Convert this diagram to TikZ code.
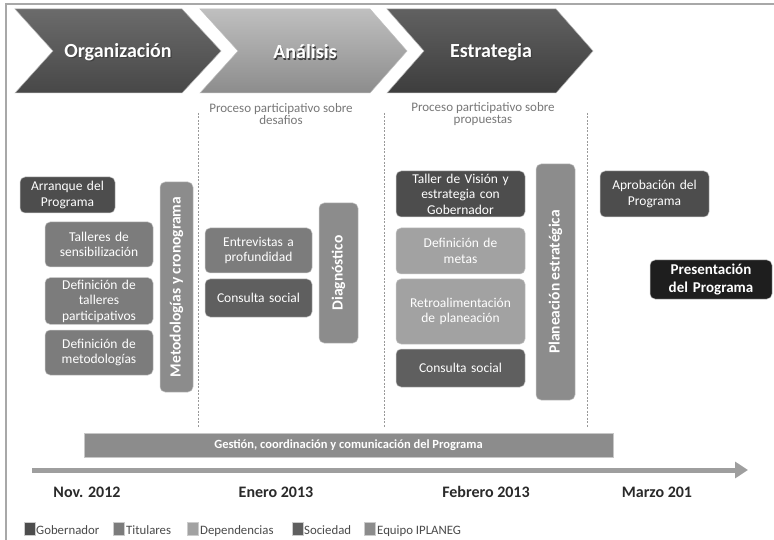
\documentclass[tikz,border=0pt]{standalone}
\usepackage{fontspec}
\setmainfont{Carlito}
\usetikzlibrary{arrows.meta}
\definecolor{cGob}{HTML}{4D4D4D}
\definecolor{cTit}{HTML}{7C7C7C}
\definecolor{cDep}{HTML}{A2A2A2}
\definecolor{cSoc}{HTML}{5F5F5F}
\definecolor{cEq}{HTML}{8C8C8C}
\definecolor{cPres}{HTML}{1E1E1E}
\definecolor{cFrame}{HTML}{A8A8A8}
\definecolor{cSub}{HTML}{787878}
\definecolor{cDate}{HTML}{2A2A2A}
\definecolor{cLeg}{HTML}{4A4A4A}
\begin{document}
\begin{tikzpicture}[x=1pt,y=-1pt,
  box/.style={rounded corners=5pt, draw=black!22, line width=0.5pt, fill=#1,
    text=white, align=center, inner sep=2pt,
    font=\fontsize{13.5}{15.5}\selectfont},
  vbar/.style={rounded corners=5pt, draw=black!22, line width=0.5pt, fill=cEq,
    text=white, align=center, inner sep=0pt, rotate=90,
    font=\fontsize{15.5}{17}\selectfont\bfseries},
  chevlabel/.style={text=white, inner sep=0pt, font=\fontsize{20}{22}\selectfont\bfseries},
  chevshadow/.style={text=black!75, inner sep=0pt, font=\fontsize{20}{22}\selectfont\bfseries},
  subt/.style={text=cSub, align=center, inner sep=0pt, font=\fontsize{13}{12}\selectfont},
  datelabel/.style={text=cDate, inner sep=0pt, font=\fontsize{16}{18}\selectfont\bfseries},
  lsq/.style={draw=black!20, line width=0.3pt, minimum width=11pt, minimum height=13pt, inner sep=0pt},
  ltext/.style={text=cLeg, inner sep=0pt, anchor=base west, font=\fontsize{12.8}{14}\selectfont},
  vline/.style={draw=black!40, line width=0.8pt, dash pattern=on 2pt off 1.5pt},
]
\useasboundingbox (0,0) rectangle (774,540);
\fill[white] (0,0) rectangle (774,540);

% frame
\coordinate (fa) at (6,540);
\coordinate (fb) at (6,4);
\coordinate (fc) at (774,4);
\draw[cFrame, line width=2pt] (fa) -- (fb) -- (fc);

% chevrons
\draw[draw=black!30, line width=0.5pt, top color=black!58, bottom color=black!72]
  (15,9) -- (182,9) -- (221,51) -- (182,93) -- (15,93) -- (53,51) -- cycle;
\draw[draw=black!25, line width=0.5pt, top color=black!25, bottom color=black!45]
  (200,9) -- (370,9) -- (407,51) -- (370,93) -- (200,93) -- (238,51) -- cycle;
\draw[draw=black!30, line width=0.5pt, top color=black!62, bottom color=black!76]
  (387,9) -- (556,9) -- (593,51) -- (556,93) -- (387,93) -- (424,51) -- cycle;

\node[chevshadow] (orgs) at (119.2,53.2) {Organización};
\node[chevlabel] (org) at (118,52) {Organización};
\node[chevshadow] (anas) at (306.2,53.2) {Análisis};
\node[chevlabel] (ana) at (305,52) {Análisis};
\node[chevshadow] (ests) at (492.2,53.2) {Estrategia};
\node[chevlabel] (est) at (491,52) {Estrategia};

% subtitles
\node[subt] (sub1) at (281,114) {Proceso participativo sobre\\desafios};
\node[subt] (sub2) at (483,114) {Proceso participativo sobre\\propuestas};

% dashed separators
\coordinate (d1a) at (198,113); \coordinate (d1b) at (198,428);
\coordinate (d2a) at (384,113); \coordinate (d2b) at (384,428);
\coordinate (d3a) at (587,113); \coordinate (d3b) at (587,428);
\draw[vline] (d1a) -- (d1b);
\draw[vline] (d2a) -- (d2b);
\draw[vline] (d3a) -- (d3b);

% Organización column
\node[box=cGob, minimum width=95pt, minimum height=36pt, text width=89pt] (arr) at (67.5,195) {Arranque del\\Programa};
\node[box=cTit, minimum width=108pt, minimum height=45pt, text width=102pt] (tal) at (99,244.5) {Talleres de\\sensibilización};
\node[box=cTit, minimum width=108pt, minimum height=46pt, text width=102pt] (deft) at (99,301) {Definición de\\talleres\\participativos};
\node[box=cTit, minimum width=108pt, minimum height=45pt, text width=102pt] (defm) at (99,352.5) {Definición de\\metodologías};
\node[vbar, minimum width=210pt, minimum height=33pt] (met) at (176.5,287) {Metodologías y cronograma};

% Análisis column
\node[box=cTit, minimum width=107pt, minimum height=45pt, text width=101pt] (ent) at (258.5,250.5) {Entrevistas a\\profundidad};
\node[box=cSoc, minimum width=107pt, minimum height=38pt, text width=101pt] (cs1) at (258.5,298) {Consulta social};
\node[vbar, minimum width=140pt, minimum height=39pt] (diag) at (338.5,273) {Diagnóstico};

% Estrategia column
\node[box=cGob, minimum width=129pt, minimum height=46pt, text width=123pt] (tv) at (460.5,194) {Taller de Visión y\\estrategia con\\Gobernador};
\node[box=cDep, minimum width=129pt, minimum height=46pt, text width=123pt] (metas) at (460.5,251) {Definición de\\metas};
\node[box=cDep, minimum width=129pt, minimum height=65pt, text width=123pt] (retro) at (460.5,311.5) {Retroalimentación\\de planeación};
\node[box=cSoc, minimum width=129pt, minimum height=38pt, text width=123pt] (cs2) at (460.5,368) {Consulta social};
\node[vbar, minimum width=236pt, minimum height=39pt] (plan) at (555.5,282) {Planeación estratégica};

% final column
\node[box=cGob, minimum width=109pt, minimum height=46pt, text width=103pt] (apr) at (654.5,194) {Aprobación del\\Programa};
\node[box=cPres, minimum width=122pt, minimum height=39pt, text width=116pt,
  font=\fontsize{15}{18}\selectfont\bfseries] (pres) at (711,279.5) {Presentación\\del Programa};

% management bar
\node[draw=black!22, line width=0.5pt, fill=cEq, text=white, inner sep=0pt,
  minimum width=529pt, minimum height=24pt, font=\fontsize{12.5}{14}\selectfont\bfseries]
  (gest) at (348.5,445) {Gestión, coordinación y comunicación del Programa};

% timeline
\coordinate (ta) at (32,470);
\coordinate (tb) at (748,470);
\draw[black!38, line width=5pt, -{Triangle[length=13pt,width=16pt]}] (ta) -- (tb);

\node[datelabel] (dt1) at (87,492) {Nov. 2012};
\node[datelabel] (dt2) at (276,492) {Enero 2013};
\node[datelabel] (dt3) at (486,492) {Febrero 2013};
\node[datelabel] (dt4) at (657,492) {Marzo 201};

% legend
\node[lsq, fill=cGob] (lg1) at (29.5,529) {};
\node[ltext] (lt1) at (36,534) {Gobernador};
\node[lsq, fill=cTit] (lg2) at (119,529) {};
\node[ltext] (lt2) at (126,534) {Titulares};
\node[lsq, fill=cDep] (lg3) at (193,529) {};
\node[ltext] (lt3) at (200,534) {Dependencias};
\node[lsq, fill=cSoc] (lg4) at (297.5,529) {};
\node[ltext] (lt4) at (304,534) {Sociedad};
\node[lsq, fill=cEq] (lg5) at (369.5,529) {};
\node[ltext] (lt5) at (377,534) {Equipo IPLANEG};
\end{tikzpicture}
\end{document}
